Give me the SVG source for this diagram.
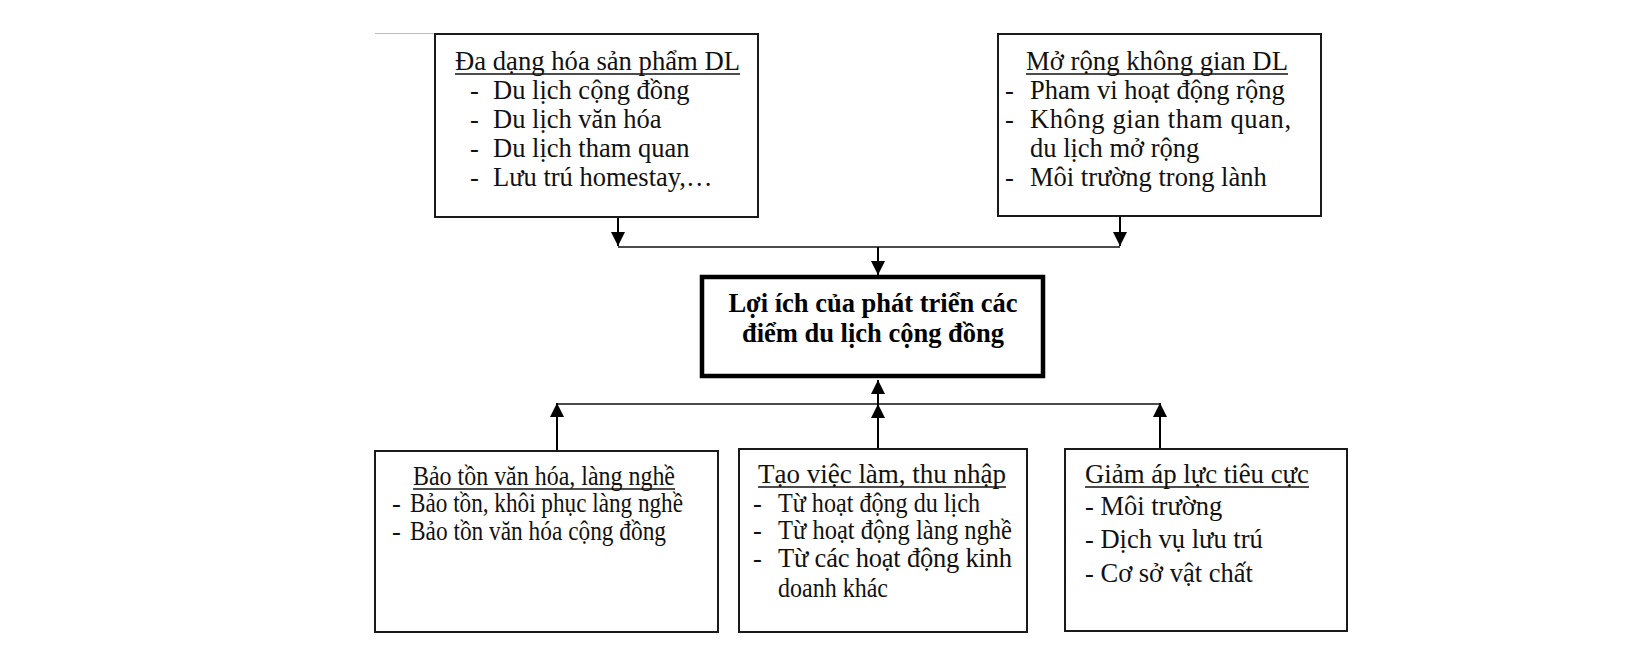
<svg xmlns="http://www.w3.org/2000/svg" width="1639" height="653" viewBox="0 0 1639 653">
<style>
  .box { fill: #fff; stroke: #1a1a1a; stroke-width: 2; }
  .main { fill: #fff; stroke: #000; stroke-width: 4.5; }
  .t { font-family: "Liberation Serif", "Times New Roman", serif; font-size: 26.5px; fill: #111; }
  .tb { font-family: "Liberation Serif", "Times New Roman", serif; font-size: 26.5px; font-weight: bold; fill: #000; }
  .ul { stroke: #111; stroke-width: 1.4; }
  .conn { stroke: #000; stroke-width: 2; fill: none; }
  .hline { stroke: #111; stroke-width: 1.6; fill: none; }
</style>
<defs>
  <marker id="arr" markerUnits="userSpaceOnUse" markerWidth="14" markerHeight="14" viewBox="0 0 14 14" refX="14" refY="7" orient="auto">
    <path d="M0,0 L14,7 L0,14 Z" fill="#000"/>
  </marker>
</defs>
<rect width="1639" height="653" fill="#fff"/>
<line x1="375" y1="33.5" x2="436" y2="33.5" stroke="#bbb" stroke-width="1.2"/>

<g id="connectors">
  <line class="conn" x1="618" y1="218" x2="618" y2="246" marker-end="url(#arr)"/>
  <line class="conn" x1="1120" y1="217" x2="1120" y2="246" marker-end="url(#arr)"/>
  <line class="hline" x1="618" y1="247" x2="1120" y2="247"/>
  <line class="conn" x1="878" y1="247" x2="878" y2="275" marker-end="url(#arr)"/>
  <line class="hline" x1="557" y1="404" x2="1160" y2="404"/>
  <line class="conn" x1="878" y1="404" x2="878" y2="380" marker-end="url(#arr)"/>
  <line class="conn" x1="557" y1="451" x2="557" y2="403" marker-end="url(#arr)"/>
  <line class="conn" x1="878" y1="449" x2="878" y2="404" marker-end="url(#arr)"/>
  <line class="conn" x1="1160" y1="449" x2="1160" y2="403" marker-end="url(#arr)"/>
</g>

<g id="node-da-dang">
  <rect class="box" x="435" y="34" width="323" height="183"/>
  <text class="t" x="455" y="70" textLength="285" lengthAdjust="spacingAndGlyphs">Đa dạng hóa sản phẩm DL</text>
  <line class="ul" x1="455" y1="74" x2="740" y2="74"/>
  <text class="t" x="470" y="99">-</text><text class="t" x="493" y="99">Du lịch cộng đồng</text>
  <text class="t" x="470" y="128">-</text><text class="t" x="493" y="128">Du lịch văn hóa</text>
  <text class="t" x="470" y="157">-</text><text class="t" x="493" y="157">Du lịch tham quan</text>
  <text class="t" x="470" y="186">-</text><text class="t" x="493" y="186">Lưu trú homestay,…</text>
</g>

<g id="node-mo-rong">
  <rect class="box" x="998" y="34" width="323" height="182"/>
  <text class="t" x="1026" y="70" textLength="262" lengthAdjust="spacingAndGlyphs">Mở rộng không gian DL</text>
  <line class="ul" x1="1026" y1="74" x2="1288" y2="74"/>
  <text class="t" x="1005" y="99">-</text><text class="t" x="1030" y="99">Pham vi hoạt động rộng</text>
  <text class="t" x="1005" y="128">-</text><text class="t" x="1030" y="128" textLength="261" lengthAdjust="spacing">Không gian tham quan,</text>
  <text class="t" x="1030" y="157">du lịch mở rộng</text>
  <text class="t" x="1005" y="186">-</text><text class="t" x="1030" y="186">Môi trường trong lành</text>
</g>

<g id="node-loi-ich">
  <rect class="main" x="702" y="277" width="341" height="99"/>
  <text class="tb" x="873" y="312" text-anchor="middle">Lợi ích của phát triển các</text>
  <text class="tb" x="873" y="342" text-anchor="middle">điểm du lịch cộng đồng</text>
</g>

<g id="node-bao-ton">
  <rect class="box" x="375" y="451" width="343" height="181"/>
  <text class="t" x="413" y="485" textLength="262" lengthAdjust="spacingAndGlyphs">Bảo tồn văn hóa, làng nghề</text>
  <line class="ul" x1="413" y1="489" x2="675" y2="489"/>
  <text class="t" x="392" y="512">-</text><text class="t" x="410" y="512" textLength="273" lengthAdjust="spacingAndGlyphs">Bảo tồn, khôi phục làng nghề</text>
  <text class="t" x="392" y="540">-</text><text class="t" x="410" y="540" textLength="256" lengthAdjust="spacingAndGlyphs">Bảo tồn văn hóa cộng đồng</text>
</g>

<g id="node-viec-lam">
  <rect class="box" x="739" y="449" width="288" height="183"/>
  <text class="t" x="758" y="483" textLength="248" lengthAdjust="spacingAndGlyphs">Tạo việc làm, thu nhập</text>
  <line class="ul" x1="758" y1="487" x2="1006" y2="487"/>
  <text class="t" x="753" y="512">-</text><text class="t" x="778" y="512" textLength="202" lengthAdjust="spacingAndGlyphs">Từ hoạt động du lịch</text>
  <text class="t" x="753" y="539">-</text><text class="t" x="778" y="539" textLength="234" lengthAdjust="spacingAndGlyphs">Từ hoạt động làng nghề</text>
  <text class="t" x="753" y="567">-</text><text class="t" x="778" y="567" textLength="234" lengthAdjust="spacing">Từ các hoạt động kinh</text>
  <text class="t" x="778" y="597" textLength="110" lengthAdjust="spacingAndGlyphs">doanh khác</text>
</g>

<g id="node-giam-ap-luc">
  <rect class="box" x="1065" y="449" width="282" height="182"/>
  <text class="t" x="1085" y="483" textLength="224" lengthAdjust="spacingAndGlyphs">Giảm áp lực tiêu cực</text>
  <line class="ul" x1="1085" y1="487" x2="1309" y2="487"/>
  <text class="t" x="1085" y="515">- Môi trường</text>
  <text class="t" x="1085" y="548">- Dịch vụ lưu trú</text>
  <text class="t" x="1085" y="582">- Cơ sở vật chất</text>
</g>
</svg>
